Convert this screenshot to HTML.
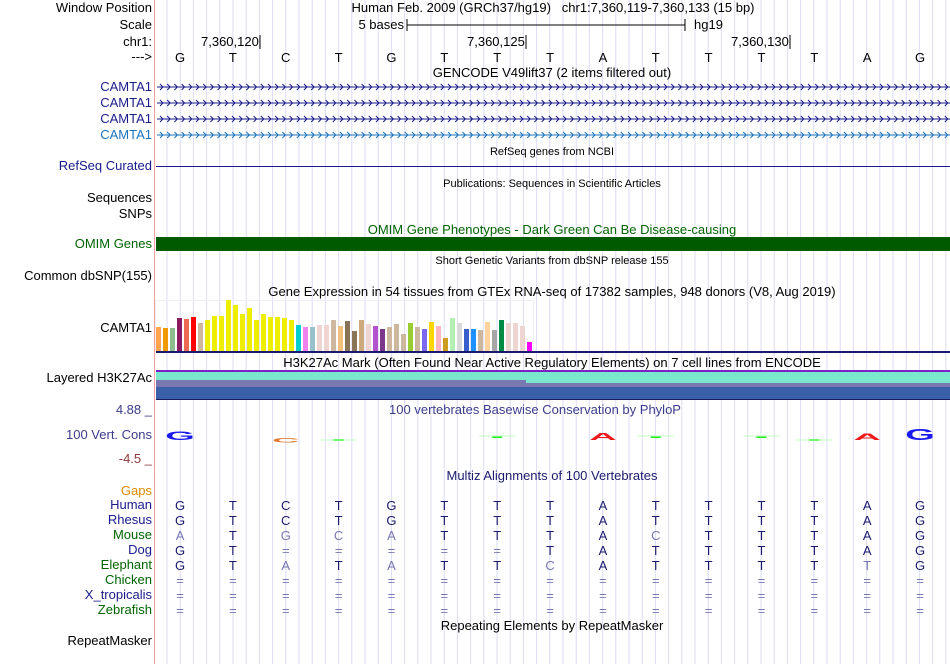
<!DOCTYPE html>
<html><head><meta charset="utf-8">
<style>
body{margin:0;background:#fff;}
#root{position:relative;width:950px;height:664px;overflow:hidden;font-family:"Liberation Sans",sans-serif;font-size:13px;color:#000;}
.t{position:absolute;white-space:nowrap;line-height:14px;}
.lab{position:absolute;right:798px;white-space:nowrap;line-height:14px;text-align:right;}
.c{transform:translateX(-50%);}
.sm{font-size:11px;}
</style></head><body>
<div id="root">
<svg id="grid" width="950" height="664" style="position:absolute;left:0;top:0"></svg>

<div class="lab" style="top:1px">Window Position</div>
<div class="t c" style="left:553px;top:1px">Human Feb. 2009 (GRCh37/hg19)&nbsp;&nbsp;&nbsp;chr1:7,360,119-7,360,133 (15 bp)</div>
<div class="lab" style="top:18px">Scale</div>
<div class="t" style="right:546px;top:18px">5 bases</div>
<div class="t" style="left:694px;top:18px">hg19</div>
<div class="lab" style="top:35px">chr1:</div>
<div class="t" style="left:201px;top:35px">7,360,120</div>
<div class="t" style="left:467px;top:35px">7,360,125</div>
<div class="t" style="left:731px;top:35px">7,360,130</div>
<div class="lab" style="top:50px">---&gt;</div>

<div class="t c" style="left:552px;top:66px">GENCODE V49lift37 (2 items filtered out)</div>
<div class="lab" style="top:80px;color:#1a1a8c">CAMTA1</div>
<div class="lab" style="top:96px;color:#1a1a8c">CAMTA1</div>
<div class="lab" style="top:112px;color:#1a1a8c">CAMTA1</div>
<div class="lab" style="top:128px;color:#1a73c0">CAMTA1</div>

<div class="t c sm" style="left:552px;top:145px">RefSeq genes from NCBI</div>
<div class="lab" style="top:159px;color:#1a1a8c">RefSeq Curated</div>
<div class="t c sm" style="left:552px;top:177px">Publications: Sequences in Scientific Articles</div>
<div class="lab" style="top:191px">Sequences</div>
<div class="lab" style="top:207px">SNPs</div>
<div class="t c" style="left:552px;top:223px;color:#006400">OMIM Gene Phenotypes - Dark Green Can Be Disease-causing</div>
<div class="lab" style="top:237px;color:#006400">OMIM Genes</div>
<div class="t c sm" style="left:552px;top:254px">Short Genetic Variants from dbSNP release 155</div>
<div class="lab" style="top:269px">Common dbSNP(155)</div>
<div class="t c" style="left:552px;top:285px">Gene Expression in 54 tissues from GTEx RNA-seq of 17382 samples, 948 donors (V8, Aug 2019)</div>
<div class="lab" style="top:321px">CAMTA1</div>
<div class="t c" style="left:552px;top:356px">H3K27Ac Mark (Often Found Near Active Regulatory Elements) on 7 cell lines from ENCODE</div>
<div class="lab" style="top:371px">Layered H3K27Ac</div>
<div class="lab" style="top:403px;color:#3c3c8c">4.88 _</div>
<div class="t c" style="left:535px;top:403px;color:#3c3c8c">100 vertebrates Basewise Conservation by PhyloP</div>
<div class="lab" style="top:428px;color:#3c3c8c">100 Vert. Cons</div>
<div class="lab" style="top:452px;color:#8c3c3c">-4.5 _</div>
<div class="t c" style="left:552px;top:469px;color:#1a1a6c">Multiz Alignments of 100 Vertebrates</div>
<div class="lab" style="top:484px;color:#e08a00">Gaps</div>
<div id="species"></div>
<div class="t c" style="left:552px;top:619px">Repeating Elements by RepeatMasker</div>
<div class="lab" style="top:634px">RepeatMasker</div>
</div>
<script>
const bases=["G","T","C","T","G","T","T","T","A","T","T","T","T","A","G"];
const gtexValues=[24,23,23,33,32,34,28,31,35,35,51,46,37,43,31,37,34,34,33,31,26,24,24,26,26,31,25,30,20,31,27,25,22,24,27,17,28,24,22,29,25,13,33,28,22,22,21,29,21,31,28,28,25,9];
const gtexColors=["#FFA54F","#EE9A00","#8FBC8F","#8B1C62","#EE6A50","#FF0000","#CDB79E","#EEEE00","#EEEE00","#EEEE00","#EEEE00","#EEEE00","#EEEE00","#EEEE00","#EEEE00","#EEEE00","#EEEE00","#EEEE00","#EEEE00","#EEEE00","#00CED1","#EE82EE","#9AC0CD","#EED5D2","#EED5D2","#CDB79E","#F4C17D","#8B7355","#8B7355","#CDAA7D","#EED5D2","#B452CD","#7A378B","#CDB79E","#CDB79E","#CDB79E","#9ACD32","#CDB79E","#7B68EE","#FFD700","#FFB6C1","#CD9B1D","#B4EEB4","#D9D9D9","#3A5FCD","#1E90FF","#CDB79E","#FFD39B","#A6A6A6","#008B45","#EED5D2","#EED5D2","#EED5D2","#FF00FF"];
const species=["Human","Rhesus","Mouse","Dog","Elephant","Chicken","X_tropicalis","Zebrafish"];
const speciesColors=["#1a1a8c","#1a1a8c","#006400","#1a1a8c","#006400","#006400","#1a1a8c","#006400"];
const alignments=["GTCTGTTTATTTTAG","GTCTGTTTATTTTAG","ATGCATTTACTTTAG","GT=====TATTTTAG","GTATATTCATTTTTG","===============","===============","==============="];
const phyloP=[1.2,0,-0.6,-0.1,0,0,0.1,0,1.0,0.2,0,0.2,-0.1,0.9,1.6];

const NS="http://www.w3.org/2000/svg";
const svg=document.getElementById('grid');
const X0=153.6,BW=52.86;
const bx=i=>X0+BW*(i+0.5);
function mk(tag,attrs){const e=document.createElementNS(NS,tag);for(const k in attrs)e.setAttribute(k,attrs[k]);svg.appendChild(e);return e;}
for(let x=167;x<950;x+=13.2){const l=mk('line',{x1:x,y1:0,x2:x,y2:664,stroke:'#dcdcf6','stroke-width':1});

}
const ed=mk('line',{x1:154.5,y1:0,x2:154.5,y2:664,stroke:'#f4a0a0','stroke-width':1});


mk('line',{x1:407,y1:25,x2:685,y2:25,stroke:'#000'});
mk('line',{x1:407,y1:19,x2:407,y2:31,stroke:'#000'});
mk('line',{x1:685,y1:19,x2:685,y2:31,stroke:'#000'});
[260,526,790].forEach(x=>mk('line',{x1:x,y1:35,x2:x,y2:49,stroke:'#000'}));
bases.forEach((b,i)=>{const t=mk('text',{x:bx(i),y:62,'text-anchor':'middle','font-size':13,'font-family':'Liberation Sans'});t.textContent=b;

});
[[87,'#1a1a8c'],[103,'#1a1a8c'],[119,'#1a1a8c'],[135,'#1a73c0']].forEach(([y,c],k)=>{
 const g=mk('g',{});
 
 
 const l=document.createElementNS(NS,'line');l.setAttribute('x1',157);l.setAttribute('x2',950);l.setAttribute('y1',y);l.setAttribute('y2',y);l.setAttribute('stroke',c);g.appendChild(l);
 let d='';for(let x=160;x<950;x+=7.2){d+=`M${x},${y-3}L${x+3},${y}L${x},${y+3}`;}
 const p=document.createElementNS(NS,'path');p.setAttribute('d',d);p.setAttribute('stroke',c);p.setAttribute('fill','none');g.appendChild(p);
});
const rs=mk('line',{x1:156,y1:166.5,x2:950,y2:166.5,stroke:'#1a1a8c'});


const om=mk('rect',{x:156,y:237,width:794,height:14,fill:'#005a00'});


mk('rect',{x:155.5,y:300.5,width:378,height:51,fill:'none',stroke:'#eeeef8'});
const base=351,scale=1.0;
gtexValues.forEach((v,i)=>{const r=mk('rect',{x:156+7*i,y:base-v*scale,width:5,height:v*scale,fill:gtexColors[i]});

});
mk('rect',{x:156,y:351,width:794,height:2,fill:'#1a1a6c'});
mk('rect',{x:156,y:370,width:794,height:2,fill:'#7a1fc8'});
mk('rect',{x:156,y:372,width:794,height:8,fill:'#7ae6cc'});
mk('rect',{x:156,y:380,width:370,height:7,fill:'#7a78b0'});
mk('rect',{x:526,y:383,width:424,height:5,fill:'#7a78b0'});
mk('rect',{x:526,y:380,width:424,height:3,fill:'#7ae6cc'});
mk('rect',{x:156,y:387,width:794,height:12,fill:'#3a60a8'});
mk('rect',{x:156,y:399,width:794,height:1,fill:'#1a1a5c'});
const mid=437;
phyloP.forEach((v,i)=>{
 if(v===0)return;
 const x=bx(i),b=bases[i];
 const col=b==='G'?'#1a1aee':b==='A'?'#ee1a1a':b==='C'?'#e07a30':'#22ee22';
 const g=mk('g',{});
 
 
 if(b==='T'){const r=document.createElementNS(NS,'rect');const h=Math.max(2,Math.abs(v)*5);
  r.setAttribute('x',x-5);r.setAttribute('width',10);r.setAttribute('y',v>0?mid-h/2:mid+2);r.setAttribute('height',h);r.setAttribute('fill',col);g.appendChild(r);
  const l=document.createElementNS(NS,'line');l.setAttribute('x1',x-18);l.setAttribute('x2',x+18);l.setAttribute('y1',v>0?mid-1:mid+3);l.setAttribute('y2',v>0?mid-1:mid+3);l.setAttribute('stroke','#bfffbf');g.appendChild(l);
 } else {const t=document.createElementNS(NS,'text');const h=Math.abs(v)*7;
  t.setAttribute('x',0);t.setAttribute('y',0);t.setAttribute('text-anchor','middle');t.setAttribute('font-size',20);t.setAttribute('font-weight','bold');t.setAttribute('fill',col);t.setAttribute('font-family','Liberation Sans');
  t.setAttribute('transform',`translate(${x},${v>0?mid+3:mid+1}) scale(1.9,${(h/14).toFixed(2)*(v>0?1:-1)})`);t.textContent=b;g.appendChild(t);}
});
const sp=document.getElementById('species');
species.forEach((s,r)=>{
 const y=498+15*r;
 const d=document.createElement('div');d.className='lab';d.style.top=y+'px';d.style.color=speciesColors[r];d.textContent=s;
 
 
 sp.appendChild(d);
 alignments[r].split('').forEach((ch,i)=>{
  const match=ch===bases[i];
  const t=mk('text',{x:bx(i),y:y+12,'text-anchor':'middle','font-size':13,'font-family':'Liberation Sans',fill:match?'#1a1a6c':'#7878b0'});
  t.textContent=ch;
  
  
 });
});
</script>
</body></html>
